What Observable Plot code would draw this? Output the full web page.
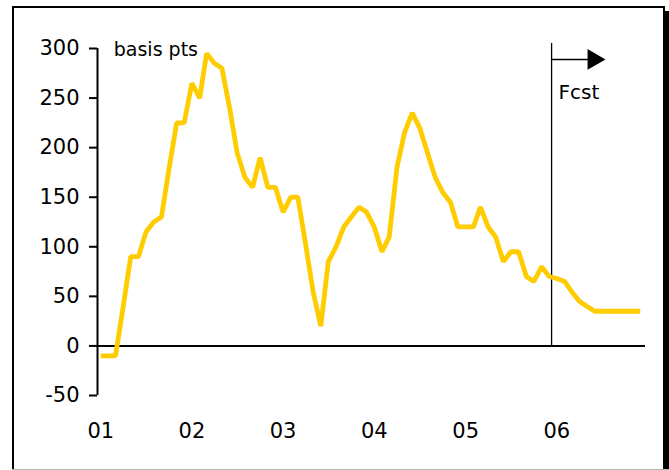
<!DOCTYPE html>
<html>
<head>
<meta charset="utf-8">
<script src="https://cdn.jsdelivr.net/npm/d3@7"></script>
<script src="https://cdn.jsdelivr.net/npm/@observablehq/plot@0.6"></script>
<style>
  html, body { margin: 0; padding: 0; background: #fff; }
  #wrap { position: relative; width: 669px; height: 470px; overflow: hidden; }
  #box { position: absolute; left: 12px; top: 6px; width: 649px; height: 470px;
         border: 2px solid #000; box-shadow: 5px 5px 0 #000; background: #fff; }
  #base { position: absolute; left: 12px; top: 469px; width: 657px; height: 1px; background: #b4b4b4; }
  #chart { position: absolute; left: 0; top: 0; }
</style>
</head>
<body>
<div id="wrap"><div id="box"></div><div id="base"></div><div id="chart"></div></div>
<script>
// Monthly spread, basis points, Jan 2001 – Dec 2006 (2006 is the forecast)
const spread = [
  -10, -10, -10, 40, 90, 90, 115, 125, 130, 178, 225, 225,   // 2001
  265, 250, 295, 285, 280, 240, 195, 170, 160, 190, 160, 160, // 2002
  135, 150, 150, 103, 55, 20, 85, 100, 120, 130, 140, 135,    // 2003
  120, 95, 110, 180, 215, 235, 220, 195, 170, 155, 145, 120,  // 2004
  120, 120, 140, 120, 110, 85, 95, 95, 70, 65, 80, 70,        // 2005
  68, 65, 55, 45, 40, 35, 35, 35, 35, 35, 35, 35              // 2006
];
const startYear = 2001;
const yearLabels = ["01", "02", "03", "04", "05", "06"];
const yTicks = [-50, 0, 50, 100, 150, 200, 250, 300];
const unitLabel = "basis pts";
const fcstLabel = "Fcst";

// Forecast marker: where the forecast begins and how far its arrow reaches
const fcstStart = new Date(Date.UTC(2005, 11, 11));
const fcstArrowEnd = new Date(Date.UTC(2006, 4, 28));
const fcstTop = 305;
const fcstArrowLevel = 289;
const fcstTextLevel = 256;

const months = spread.map((_, i) => new Date(Date.UTC(startYear, i, 1)));
const series = spread.map((v, i) => ({date: months[i], value: v}));
const yearStarts = yearLabels.map((_, i) => new Date(Date.UTC(startYear + i, 0, 1)));

const xLo = new Date(Date.UTC(2000, 11, 19));
const xHi = new Date(Date.UTC(2006, 11, 22));

const font = "DejaVu Sans, Verdana, sans-serif";

const chart = Plot.plot({
  width: 669,
  height: 470,
  marginLeft: 97,
  marginRight: 24,
  marginTop: 48,
  marginBottom: 75,
  style: {fontFamily: font, color: "#000", background: "transparent"},
  x: {type: "utc", domain: [xLo, xHi], range: [97, 645]},
  y: {domain: [-50, 300], range: [395, 48]},
  marks: [
    Plot.axisY({ticks: yTicks, tickSize: 8, tickPadding: 10, fontSize: 21,
                strokeWidth: 2, label: null, tickFormat: d => String(d)}),
    Plot.axisX({ticks: yearStarts, tickSize: 0, tickPadding: 28, fontSize: 21,
                label: null, tickFormat: d => yearLabels[d.getUTCFullYear() - startYear]}),
    Plot.ruleX([xLo], {y1: -50, y2: 300, stroke: "#000", strokeWidth: 2}),
    Plot.ruleY([0], {stroke: "#000", strokeWidth: 2}),
    Plot.ruleX([fcstStart], {y1: 0, y2: fcstTop, stroke: "#000", strokeWidth: 1.3}),
    Plot.link([{x1: fcstStart, x2: fcstArrowEnd}], {
      x1: "x1", x2: "x2", y1: fcstArrowLevel, y2: fcstArrowLevel,
      stroke: "#000", strokeWidth: 1.5
    }),
    Plot.dot([fcstArrowEnd], {x: d => d, y: fcstArrowLevel, symbol: "triangle",
                              r: 7.7, rotate: 90, fill: "#000", stroke: null}),
    Plot.text([fcstLabel], {x: fcstStart, y: fcstTextLevel, text: d => d, dx: 7,
                            textAnchor: "start", fontSize: 20, fill: "#000"}),
    Plot.text([unitLabel], {x: months[0], y: 300, text: d => d, dx: 13, dy: 1,
                            textAnchor: "start", fontSize: 19, fill: "#000"}),
    Plot.line(series, {x: "date", y: "value", stroke: "#FFCC00", strokeWidth: 4.8,
                       strokeLinejoin: "miter", strokeLinecap: "butt"})
  ]
});
document.getElementById("chart").appendChild(chart);
</script>
</body>
</html>
